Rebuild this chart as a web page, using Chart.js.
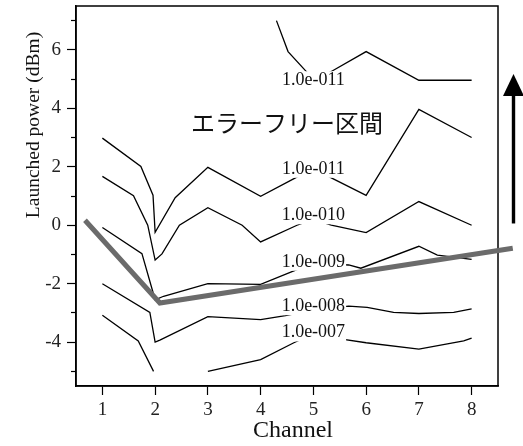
<!DOCTYPE html>
<html>
<head>
<meta charset="utf-8">
<script src="https://cdn.jsdelivr.net/npm/chart.js@4.4.1/dist/chart.umd.min.js"></script>
<style>
  html, body { margin: 0; padding: 0; background: #fff; }
</style>
</head>
<body>
<canvas id="chart" width="523" height="446"></canvas>
<script>
// axis ticks
const channelTicks = [1, 2, 3, 4, 5, 6, 7, 8];
const powerMajorTicks = [-4, -2, 0, 2, 4, 6];
const powerMinorTicks = [-5, -3, -1, 1, 3, 5, 7];

// BER contour lines, [channel, launched power]
const ber11Upper = [[4.3, 7.0], [4.52, 5.94], [4.85, 5.29], [5, 5.0], [5.34, 5.26], [6, 5.94], [7, 4.96], [8, 4.96]];
const ber11Lower = [[1, 2.98], [1.73, 2.01], [1.96, 1.03], [2, -0.24], [2.38, 0.94], [3, 1.98], [4, 0.99], [4.66, 1.62], [5, 1.95], [5.34, 1.62], [6, 1.02], [7, 3.96], [8, 3.0]];
const ber10 = [[1, 1.67], [1.59, 1.01], [1.86, 0.0], [2, -1.19], [2.13, -0.98], [2.46, 0.0], [3, 0.6], [3.65, 0.0], [4, -0.57], [4.69, 0.0], [5, 0.2], [5.34, 0.0], [6, -0.25], [7, 0.81], [8, 0.0]];
const ber9 = [[1, -0.08], [1.75, -0.97], [2, -2.55], [2.16, -2.43], [3, -2.0], [4, -2.02], [4.63, -1.56], [5, -1.3], [5.67, -1.36], [5.9, -1.47], [7, -0.72], [7.35, -1.02], [8, -1.17]];
const ber8 = [[1, -2.0], [1.9, -2.98], [2, -4.0], [2.09, -3.93], [3, -3.13], [4, -3.23], [4.47, -3.09], [5, -2.9], [5.67, -2.77], [6.02, -2.81], [6.52, -2.98], [7, -3.02], [7.66, -2.98], [8, -2.86]];
const ber7 = [[1, -3.08], [1.68, -3.96], [1.97, -5.0], [2.5, null], [3, -5.0], [4, -4.6], [4.63, -4.02], [5, -3.72], [5.54, -3.9], [6, -4.02], [7, -4.24], [7.85, -3.96], [8, -3.86]];

// power limit (gray)
const limitLine = [[0.67, 0.17], [2.09, -2.66], [8.78, -0.79]];

// inline contour labels, anchored at channel 5
const contourLabels = ['1.0e-011', '1.0e-011', '1.0e-010', '1.0e-009', '1.0e-008', '1.0e-007'];
const contourLabelY = [4.96, 1.93, 0.34, -1.25, -2.77, -3.67];
const contourLabelX = 5;

const regionText = 'エラーフリー区間';
const regionPos = [4.5, 3.51];

const serif = '"Liberation Serif", "Times New Roman", serif';

const toPoints = (arr) => arr.map(([x, y]) => ({ x: x, y: y }));

const contours = [ber11Upper, ber11Lower, ber10, ber9, ber8, ber7].map((c) => ({
    data: toPoints(c),
    showLine: true,
    borderColor: '#000',
    borderWidth: 1.3,
    spanGaps: false,
    order: 1,
}));

const datasets = [{
    data: toPoints(limitLine),
    showLine: true,
    borderColor: '#6b6b6b',
    borderWidth: 5,
    clip: false,
    order: 0,
}].concat(contours);

// box around the plot area
const framePlugin = {
    id: 'frame',
    beforeDatasetsDraw(chart) {
        const { ctx, chartArea } = chart;
        ctx.save();
        ctx.strokeStyle = '#000';
        ctx.lineWidth = 1.5;
        ctx.strokeRect(chartArea.left, chartArea.top, chartArea.right - chartArea.left, chartArea.bottom - chartArea.top);
        ctx.restore();
    },
};

const annotatePlugin = {
    id: 'annotate',
    afterDatasetsDraw(chart) {
        const { ctx, chartArea } = chart;
        const xs = chart.scales.x;
        const ys = chart.scales.y;
        ctx.save();
        // contour labels with white knock-out
        ctx.font = '18px ' + serif;
        ctx.textAlign = 'center';
        ctx.textBaseline = 'middle';
        contourLabels.forEach((txt, i) => {
            const px = xs.getPixelForValue(contourLabelX);
            const py = ys.getPixelForValue(contourLabelY[i]);
            const w = ctx.measureText(txt).width;
            ctx.fillStyle = '#fff';
            ctx.fillRect(px - w / 2 - 1, py - 9, w + 2, 18);
            ctx.fillStyle = '#111';
            ctx.fillText(txt, px, py);
        });

        // error-free region text
        ctx.font = '24px "Noto Sans CJK JP", sans-serif';
        ctx.fillStyle = '#111';
        ctx.fillText(regionText, xs.getPixelForValue(regionPos[0]), ys.getPixelForValue(regionPos[1]));

        // axis titles
        ctx.font = '24px ' + serif;
        ctx.fillText('Channel', (chartArea.left + chartArea.right) / 2 + 6, chartArea.bottom + 45);
        ctx.save();
        ctx.translate(34, chartArea.top + 119);
        ctx.rotate(-Math.PI / 2);
        ctx.font = '19.5px ' + serif;
        ctx.fillText('Launched power (dBm)', 0, 0);
        ctx.restore();

        // upward arrow to the right of the plot
        const ax = chartArea.right + 15.5;
        const tip = ys.getPixelForValue(5.17);
        const base = tip + 22;
        const bottom = ys.getPixelForValue(0.06);
        ctx.fillStyle = '#000';
        ctx.fillRect(ax - 1.7, base - 1, 3.4, bottom - base + 1);
        ctx.beginPath();
        ctx.moveTo(ax, tip);
        ctx.lineTo(ax - 10.5, base);
        ctx.lineTo(ax + 10.5, base);
        ctx.closePath();
        ctx.fill();
        ctx.restore();
    },
};

const noPad = (s) => { s.paddingTop = 0; s.paddingBottom = 0; s.paddingLeft = 0; s.paddingRight = 0; };

const ctx = document.getElementById('chart').getContext('2d');
new Chart(ctx, {
    type: 'scatter',
    data: { datasets: datasets },
    options: {
        responsive: false,
        animation: false,
        layout: { padding: { top: 6, right: 25, left: 0, bottom: 0 } },
        elements: {
            point: { radius: 0, hoverRadius: 0 },
            line: { tension: 0 },
        },
        plugins: {
            legend: { display: false },
            tooltip: { enabled: false },
        },
        scales: {
            x: {
                type: 'linear',
                min: 0.5,
                max: 8.5,
                afterBuildTicks: (s) => { s.ticks = channelTicks.map((v) => ({ value: v })); },
                afterFit: (s) => { s.height = 60; noPad(s); },
                grid: { drawOnChartArea: false, tickLength: 9, tickColor: '#000', tickWidth: 1.2 },
                border: { color: '#000', width: 1.5 },
                ticks: { font: { family: serif, size: 19 }, color: '#222', padding: 4, maxRotation: 0 },
            },
            y: {
                type: 'linear',
                position: 'left',
                weight: 1,
                min: -5.5,
                max: 7.5,
                afterBuildTicks: (s) => { s.ticks = powerMajorTicks.map((v) => ({ value: v })); },
                afterFit: (s) => { s.width = 76; noPad(s); },
                grid: { drawOnChartArea: false, tickLength: 9, tickColor: '#000', tickWidth: 1.2 },
                border: { color: '#000', width: 1.5 },
                ticks: { font: { family: serif, size: 19 }, color: '#222', padding: 6 },
            },
            yMinor: {
                type: 'linear',
                position: 'left',
                weight: 0,
                min: -5.5,
                max: 7.5,
                afterBuildTicks: (s) => { s.ticks = powerMinorTicks.map((v) => ({ value: v })); },
                afterFit: (s) => { s.width = 0; noPad(s); },
                grid: { drawOnChartArea: false, tickLength: 5, tickColor: '#000', tickWidth: 1.2 },
                border: { display: false },
                ticks: { display: false },
            },
        },
    },
    plugins: [framePlugin, annotatePlugin],
});
</script>
</body>
</html>
